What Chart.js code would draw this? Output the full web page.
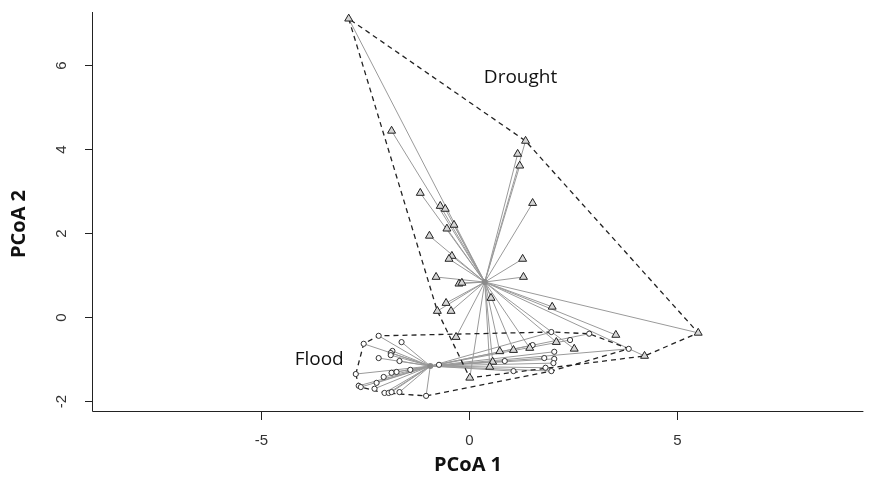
<!DOCTYPE html>
<html>
<head>
<meta charset="utf-8">
<script src="https://cdn.jsdelivr.net/npm/chart.js@4"></script>
<style>
    html, body { margin: 0; padding: 0; background: #fff; }
    canvas { display: block; }
</style>
</head>
<body>
<canvas id="pcoaChart" width="869" height="478"></canvas>
<script>
// Drought sites (triangles)
const droughtX = [-2.89, -1.86, 1.36, 1.17, 1.22, 1.53, -1.17, -0.69, -0.57, -0.36, -0.53, -0.95,
    -0.41, -0.48, 1.29, -0.79, 1.31, -0.24, -0.17, 0.53, -0.55, -0.43, -0.76, 2.00,
    -0.31, 3.53, 5.51, 2.10, 2.53, 0.74, 1.07, 1.46, 0.57, 0.50, 0.02, 4.22];
const droughtY = [7.10, 4.43, 4.19, 3.88, 3.60, 2.71, 2.95, 2.64, 2.57, 2.19, 2.10, 1.93,
    1.45, 1.38, 1.38, 0.95, 0.95, 0.79, 0.81, 0.45, 0.33, 0.14, 0.14, 0.24,
    -0.48, -0.43, -0.38, -0.60, -0.76, -0.82, -0.79, -0.74, -1.07, -1.19, -1.45, -0.93];

// Flood sites (circles)
const floodX = [-2.17, -2.53, -1.62, -1.84, -1.88, -1.88, -2.17, -1.67, -2.72, -1.86, -1.74, -1.41,
    -2.05, -2.22, -2.65, -2.60, -2.27, -2.03, -1.93, -1.86, -1.67, -1.03, -0.72, 1.98,
    2.89, 1.53, 2.43, 2.05, 1.81, 2.05, 0.86, 2.03, 1.07, 1.84, 1.98, 3.84];
const floodY = [-0.45, -0.64, -0.60, -0.81, -0.86, -0.91, -0.98, -1.05, -1.36, -1.33, -1.31, -1.26,
    -1.43, -1.57, -1.64, -1.67, -1.71, -1.81, -1.81, -1.79, -1.79, -1.88, -1.14, -0.36,
    -0.40, -0.67, -0.55, -0.83, -0.98, -1.00, -1.05, -1.10, -1.29, -1.21, -1.29, -0.76];

// Group centroids (spider hubs)
const droughtCentre = [0.38, 0.83];
const floodCentre = [-0.93, -1.17];

// Axes
const xTicks = [-5, 0, 5];
const yTicks = [-2, 0, 2, 4, 6];
const xRange = [-9.06, 9.48];
const yRange = [-2.24, 7.26];

// Group labels
const groupNames = ['Drought', 'Flood'];
const groupLabelX = [1.24, -3.60];
const groupLabelY = [5.71, -1.02];

function toPoints(xs, ys) {
    return xs.map((x, i) => ({ x: x, y: ys[i] }));
}

// Convex hull (monotone chain), returned closed
function hull(points) {
    const p = [...points].sort((a, b) => a.x - b.x || a.y - b.y);
    const cross = (o, a, b) => (a.x - o.x) * (b.y - o.y) - (a.y - o.y) * (b.x - o.x);
    const lower = [];
    p.forEach(pt => {
        while (lower.length >= 2 && cross(lower[lower.length - 2], lower[lower.length - 1], pt) <= 0) lower.pop();
        lower.push(pt);
    });
    const upper = [];
    [...p].reverse().forEach(pt => {
        while (upper.length >= 2 && cross(upper[upper.length - 2], upper[upper.length - 1], pt) <= 0) upper.pop();
        upper.push(pt);
    });
    upper.pop();
    lower.pop();
    const h = lower.concat(upper);
    h.push(h[0]);
    return h;
}

// Spider: centre -> point, separated by gaps
function spider(points, centre) {
    const out = [];
    points.forEach(pt => {
        out.push({ x: centre[0], y: centre[1] });
        out.push(pt);
        out.push({ x: pt.x, y: null });
    });
    return out;
}

const droughtPts = toPoints(droughtX, droughtY);
const floodPts = toPoints(floodX, floodY);

const spiderStyle = {
    type: 'line',
    borderColor: '#9a9a9a',
    borderWidth: 1,
    pointRadius: 0,
    showLine: true,
    spanGaps: false,
    fill: false,
    order: 4
};
const hullStyle = {
    type: 'line',
    borderColor: '#222',
    borderWidth: 1.3,
    borderDash: [5, 4],
    pointRadius: 0,
    showLine: true,
    fill: false,
    tension: 0,
    order: 3
};

// Axes, ticks and text drawn R-style
const rAxes = {
    id: 'rAxes',
    afterDraw(chart) {
        const { ctx, chartArea: a, scales: { x, y } } = chart;
        ctx.save();
        ctx.strokeStyle = '#222';
        ctx.lineWidth = 1;
        ctx.beginPath();
        ctx.moveTo(a.left + 0.5, a.top);
        ctx.lineTo(a.left + 0.5, a.bottom + 0.5);
        ctx.lineTo(a.right, a.bottom + 0.5);
        ctx.stroke();

        ctx.fillStyle = '#333';
        ctx.font = '15px "Liberation Sans", Arial, sans-serif';
        ctx.textAlign = 'center';
        ctx.textBaseline = 'middle';
        xTicks.forEach(v => {
            const px = Math.round(x.getPixelForValue(v)) + 0.5;
            ctx.beginPath();
            ctx.moveTo(px, a.bottom);
            ctx.lineTo(px, a.bottom + 9);
            ctx.stroke();
            ctx.fillText(String(v), px, 441);
        });
        yTicks.forEach(v => {
            const py = Math.round(y.getPixelForValue(v)) + 0.5;
            ctx.beginPath();
            ctx.moveTo(a.left - 7, py);
            ctx.lineTo(a.left, py);
            ctx.stroke();
            ctx.save();
            ctx.translate(62, py);
            ctx.rotate(-Math.PI / 2);
            ctx.fillText(String(v), 0, 0);
            ctx.restore();
        });

        ctx.fillStyle = '#111';
        ctx.font = 'bold 20px "Open Sans", sans-serif';
        ctx.fillText('PCoA 1', 468, 465);
        ctx.save();
        ctx.translate(19, 224);
        ctx.rotate(-Math.PI / 2);
        ctx.fillText('PCoA 2', 0, 0);
        ctx.restore();

        ctx.font = '19px "Open Sans", sans-serif';
        groupNames.forEach((name, i) => {
            ctx.fillText(name, x.getPixelForValue(groupLabelX[i]), y.getPixelForValue(groupLabelY[i]));
        });
        ctx.restore();
    }
};

new Chart(document.getElementById('pcoaChart'), {
    type: 'scatter',
    data: {
        datasets: [
            Object.assign({ label: 'Drought spider', data: spider(droughtPts, droughtCentre) }, spiderStyle),
            Object.assign({ label: 'Flood spider', data: spider(floodPts, floodCentre) }, spiderStyle),
            Object.assign({ label: 'Drought hull', data: hull(droughtPts) }, hullStyle),
            Object.assign({ label: 'Flood hull', data: hull(floodPts) }, hullStyle),
            {
                label: 'Centroids',
                data: [{ x: droughtCentre[0], y: droughtCentre[1] }, { x: floodCentre[0], y: floodCentre[1] }],
                pointRadius: 3,
                pointBackgroundColor: '#8a8a8a',
                pointBorderWidth: 0,
                order: 2
            },
            {
                label: 'Flood',
                data: floodPts,
                pointStyle: 'circle',
                pointRadius: 2.6,
                pointBackgroundColor: '#fff',
                pointBorderColor: '#333',
                pointBorderWidth: 1,
                order: 1
            },
            {
                label: 'Drought',
                data: droughtPts,
                pointStyle: 'triangle',
                pointRadius: 4.6,
                pointBackgroundColor: '#d6d6d6',
                pointBorderColor: '#222',
                pointBorderWidth: 1,
                order: 0
            }
        ]
    },
    options: {
        responsive: false,
        animation: false,
        layout: { padding: { left: 92, top: 12, right: 0, bottom: 67 } },
        plugins: {
            legend: { display: false },
            tooltip: { enabled: false }
        },
        scales: {
            x: { type: 'linear', min: xRange[0], max: xRange[1], display: false },
            y: { type: 'linear', min: yRange[0], max: yRange[1], display: false }
        }
    },
    plugins: [rAxes]
});
</script>
</body>
</html>
